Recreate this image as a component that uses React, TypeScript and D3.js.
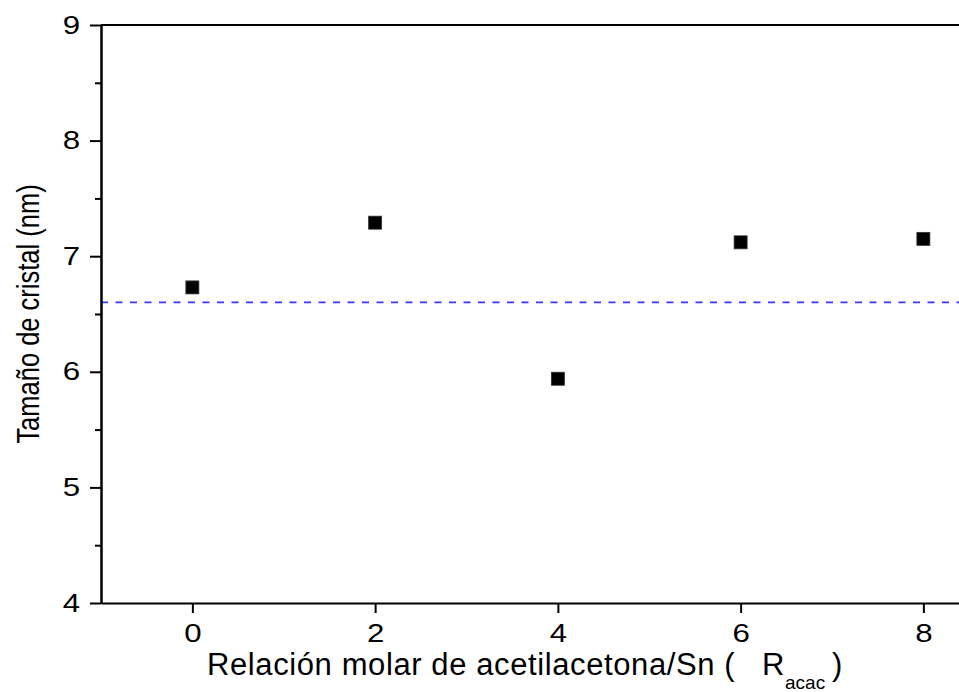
import React, { useEffect, useRef } from 'react';
import * as d3 from 'd3';

// R_acac values and measured crystal size (nm)
const ratios = [0, 2, 4, 6, 8];
const sizes = [6.73, 7.29, 5.94, 7.12, 7.15];
const meanSize = 6.6;
const xTicks = [0, 2, 4, 6, 8];
const yTicks = [4, 5, 6, 7, 8, 9];
const yMinorTicks = [4.5, 5.5, 6.5, 7.5, 8.5];

const FONT = '"Liberation Sans", Arial, sans-serif';
// tick digits in the original are wider than plain Arial
const STRETCH = 1.25;

export default function App() {
    const svgRef = useRef<SVGSVGElement>(null);

    useEffect(() => {
        const svg = d3.select(svgRef.current);
        svg.selectAll('*').remove();

        const left = 101;
        const top = 25;
        const bottom = 603;
        const unit = 91.375;

        const x = d3.scaleLinear().domain([-1, 9]).range([left, left + 10 * unit]);
        const y = d3.scaleLinear().domain([4, 9]).range([bottom, top]);

        // top spine
        svg.append('line')
            .attr('x1', x(-1)).attr('x2', x(9))
            .attr('y1', y(9)).attr('y2', y(9))
            .attr('stroke', '#000').attr('stroke-width', 2);

        // mean line
        svg.append('line')
            .attr('x1', x(-1)).attr('x2', x(9))
            .attr('y1', y(meanSize)).attr('y2', y(meanSize))
            .attr('stroke', '#3636ff')
            .attr('stroke-width', 1.8)
            .attr('stroke-dasharray', '7,7.5');

        // bottom axis
        const xAxis = svg.append('g')
            .attr('transform', `translate(0,${bottom})`)
            .call(d3.axisBottom(x).tickValues(xTicks).tickSize(10).tickSizeOuter(0).tickPadding(11).tickFormat(d3.format('d')));

        // left axis minor ticks
        svg.append('g')
            .attr('transform', `translate(${left},0)`)
            .call(d3.axisLeft(y).tickValues(yMinorTicks).tickSize(6).tickSizeOuter(0).tickFormat(() => ''));

        // left axis
        const yAxis = svg.append('g')
            .attr('transform', `translate(${left},0)`)
            .call(d3.axisLeft(y).tickValues(yTicks).tickSize(11).tickSizeOuter(0).tickPadding(10).tickFormat(d3.format('d')));

        [xAxis, yAxis].forEach(g => {
            g.selectAll('text')
                .attr('font-family', FONT)
                .attr('font-size', 25)
                .attr('fill', '#000')
                .attr('transform', `scale(${STRETCH},1)`);
        });
        yAxis.selectAll('text').attr('x', -21 / STRETCH);
        svg.selectAll('.domain').attr('stroke', '#000').attr('stroke-width', 2);
        svg.selectAll('.tick line').attr('stroke', '#000').attr('stroke-width', 2);

        // data points
        const pts = ratios.map((r, i) => ({ r, v: sizes[i] }));
        const s = 13;
        svg.append('g')
            .selectAll('rect')
            .data(pts)
            .enter()
            .append('rect')
            .attr('x', d => x(d.r) - s / 2)
            .attr('y', d => y(d.v) - s / 2)
            .attr('width', s)
            .attr('height', s)
            .attr('fill', '#000')
            .attr('stroke', '#333')
            .attr('stroke-width', 0.8);

        // axis titles
        const xt = svg.append('text')
            .attr('y', 675)
            .attr('font-family', FONT)
            .attr('font-size', 31)
            .attr('fill', '#000');
        xt.append('tspan').attr('x', 207).attr('letter-spacing', 0.6).text('Relación molar de acetilacetona/Sn (');
        xt.append('tspan').attr('x', 762).text('R');
        xt.append('tspan').attr('x', 785).attr('font-size', 19).attr('dy', 14).text('acac');
        xt.append('tspan').attr('x', 832).attr('dy', -14).text(')');

        svg.append('text')
            .attr('transform', `translate(39,${(top + bottom) / 2}) rotate(-90) scale(1,1.2)`)
            .attr('text-anchor', 'middle')
            .attr('font-family', FONT)
            .attr('font-size', 25.5)
            .attr('fill', '#000')
            .text('Tamaño de cristal (nm)');
    }, []);

    return (
        <div style={{ position: 'absolute', left: 0, top: 0, width: 959, height: 692, overflow: 'hidden', background: '#fff' }}>
            <svg ref={svgRef} width={959} height={692} style={{ display: 'block' }} />
        </div>
    );
}
